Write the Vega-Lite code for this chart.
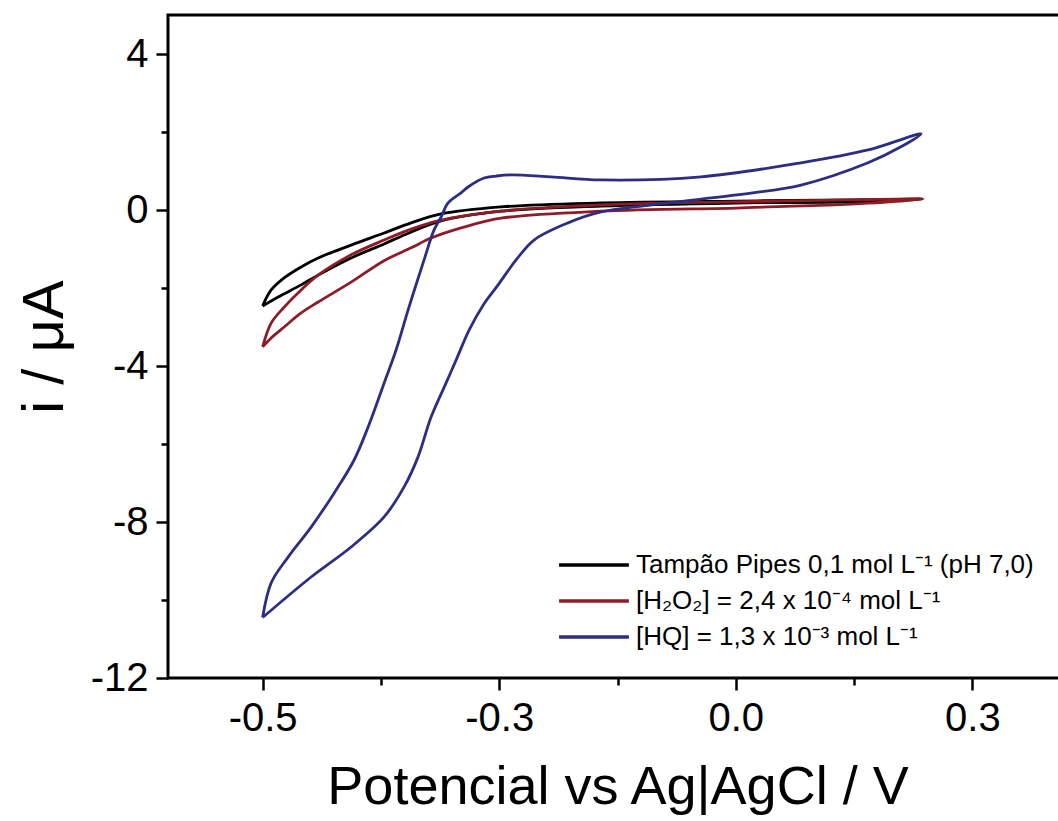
{
"$schema": "https://vega.github.io/schema/vega-lite/v6.json",
"width": 899, "height": 663,
"autosize": {"type": "none"},
"padding": {"left": 168, "top": 15, "right": 0, "bottom": 143},
"background": "white",
"config": {"font": "Liberation Sans", "view": {"stroke": "black", "strokeWidth": 3}},
"data": {"values": [
{"s":"t","k":0,"E":-0.600,"I":-2.46},
{"s":"t","k":1,"E":-0.5892,"I":-2.05},
{"s":"t","k":2,"E":-0.5727,"I":-1.74},
{"s":"t","k":3,"E":-0.5512,"I":-1.46},
{"s":"t","k":4,"E":-0.5296,"I":-1.23},
{"s":"t","k":5,"E":-0.4878,"I":-0.90},
{"s":"t","k":6,"E":-0.4460,"I":-0.59},
{"s":"t","k":7,"E":-0.4117,"I":-0.33},
{"s":"t","k":8,"E":-0.3737,"I":-0.10},
{"s":"t","k":9,"E":-0.2977,"I":0.08},
{"s":"t","k":10,"E":-0.1709,"I":0.18},
{"s":"t","k":11,"E":0.000,"I":0.23},
{"s":"t","k":12,"E":0.146,"I":0.26},
{"s":"t","k":13,"E":0.236,"I":0.28},
{"s":"t","k":14,"E":0.146,"I":0.21},
{"s":"t","k":15,"E":0.000,"I":0.18},
{"s":"t","k":16,"E":-0.1709,"I":0.10},
{"s":"t","k":17,"E":-0.2977,"I":-0.03},
{"s":"t","k":18,"E":-0.3737,"I":-0.28},
{"s":"t","k":19,"E":-0.4181,"I":-0.62},
{"s":"t","k":20,"E":-0.4460,"I":-0.87},
{"s":"t","k":21,"E":-0.4878,"I":-1.23},
{"s":"t","k":22,"E":-0.5296,"I":-1.67},
{"s":"t","k":23,"E":-0.5512,"I":-1.92},
{"s":"t","k":24,"E":-0.5803,"I":-2.23},
{"s":"t","k":25,"E":-0.600,"I":-2.46},
{"s":"h","k":0,"E":-0.600,"I":-3.51},
{"s":"h","k":1,"E":-0.5892,"I":-2.90},
{"s":"h","k":2,"E":-0.5727,"I":-2.49},
{"s":"h","k":3,"E":-0.5512,"I":-2.05},
{"s":"h","k":4,"E":-0.5296,"I":-1.67},
{"s":"h","k":5,"E":-0.4878,"I":-1.15},
{"s":"h","k":6,"E":-0.4460,"I":-0.77},
{"s":"h","k":7,"E":-0.4117,"I":-0.49},
{"s":"h","k":8,"E":-0.3737,"I":-0.26},
{"s":"h","k":9,"E":-0.2977,"I":-0.03},
{"s":"h","k":10,"E":-0.1709,"I":0.13},
{"s":"h","k":11,"E":0.000,"I":0.21},
{"s":"h","k":12,"E":0.146,"I":0.26},
{"s":"h","k":13,"E":0.2374,"I":0.28},
{"s":"h","k":14,"E":0.146,"I":0.15},
{"s":"h","k":15,"E":0.041,"I":0.08},
{"s":"h","k":16,"E":0.000,"I":0.05},
{"s":"h","k":17,"E":-0.1709,"I":-0.03},
{"s":"h","k":18,"E":-0.2977,"I":-0.21},
{"s":"h","k":19,"E":-0.3483,"I":-0.46},
{"s":"h","k":20,"E":-0.3864,"I":-0.72},
{"s":"h","k":21,"E":-0.4117,"I":-0.97},
{"s":"h","k":22,"E":-0.4460,"I":-1.30},
{"s":"h","k":23,"E":-0.4878,"I":-1.85},
{"s":"h","k":24,"E":-0.5296,"I":-2.36},
{"s":"h","k":25,"E":-0.5512,"I":-2.64},
{"s":"h","k":26,"E":-0.5727,"I":-3.00},
{"s":"h","k":27,"E":-0.5892,"I":-3.28},
{"s":"h","k":28,"E":-0.600,"I":-3.51},
{"s":"q","k":0,"E":-0.600,"I":-10.45},
{"s":"q","k":1,"E":-0.5892,"I":-9.56},
{"s":"q","k":2,"E":-0.5677,"I":-8.90},
{"s":"q","k":3,"E":-0.5385,"I":-8.13},
{"s":"q","k":4,"E":-0.5094,"I":-7.26},
{"s":"q","k":5,"E":-0.4840,"I":-6.41},
{"s":"q","k":6,"E":-0.4650,"I":-5.50},
{"s":"q","k":7,"E":-0.4460,"I":-4.44},
{"s":"q","k":8,"E":-0.4308,"I":-3.59},
{"s":"q","k":9,"E":-0.4155,"I":-2.56},
{"s":"q","k":10,"E":-0.3953,"I":-1.28},
{"s":"q","k":11,"E":-0.3826,"I":-0.51},
{"s":"q","k":12,"E":-0.3737,"I":-0.18},
{"s":"q","k":13,"E":-0.3648,"I":0.18},
{"s":"q","k":14,"E":-0.3484,"I":0.44},
{"s":"q","k":15,"E":-0.3395,"I":0.59},
{"s":"q","k":16,"E":-0.3192,"I":0.82},
{"s":"q","k":17,"E":-0.3040,"I":0.87},
{"s":"q","k":18,"E":-0.2850,"I":0.90},
{"s":"q","k":19,"E":-0.2343,"I":0.85},
{"s":"q","k":20,"E":-0.1709,"I":0.77},
{"s":"q","k":21,"E":-0.0441,"I":0.85},
{"s":"q","k":22,"E":0.0827,"I":1.21},
{"s":"q","k":23,"E":0.1677,"I":1.54},
{"s":"q","k":24,"E":0.2349,"I":1.95},
{"s":"q","k":25,"E":0.2094,"I":1.62},
{"s":"q","k":26,"E":0.1677,"I":1.21},
{"s":"q","k":27,"E":0.0827,"I":0.64},
{"s":"q","k":28,"E":-0.0023,"I":0.38},
{"s":"q","k":29,"E":-0.0860,"I":0.18},
{"s":"q","k":30,"E":-0.1709,"I":-0.05},
{"s":"q","k":31,"E":-0.2127,"I":-0.33},
{"s":"q","k":32,"E":-0.2558,"I":-0.77},
{"s":"q","k":33,"E":-0.2786,"I":-1.28},
{"s":"q","k":34,"E":-0.3014,"I":-1.92},
{"s":"q","k":35,"E":-0.3204,"I":-2.44},
{"s":"q","k":36,"E":-0.3382,"I":-3.08},
{"s":"q","k":37,"E":-0.3547,"I":-3.85},
{"s":"q","k":38,"E":-0.3686,"I":-4.49},
{"s":"q","k":39,"E":-0.3864,"I":-5.31},
{"s":"q","k":40,"E":-0.4029,"I":-6.33},
{"s":"q","k":41,"E":-0.4206,"I":-7.10},
{"s":"q","k":42,"E":-0.4460,"I":-7.87},
{"s":"q","k":43,"E":-0.4878,"I":-8.64},
{"s":"q","k":44,"E":-0.5385,"I":-9.41},
{"s":"q","k":45,"E":-0.600,"I":-10.45}
]},
"mark": {"type": "line", "strokeWidth": 2.8, "clip": true, "interpolate": "catmull-rom"},
"encoding": {
  "x": {"field": "E", "type": "quantitative",
    "scale": {"domain": [-0.72, 0.42], "nice": false, "zero": false},
    "axis": {"values": [-0.6, -0.45, -0.3, -0.15, 0, 0.15, 0.3],
      "labelExpr": "datum.value < -0.5 ? '-0.5' : datum.value < -0.4 ? '' : datum.value < -0.2 ? '-0.3' : datum.value < -0.1 ? '' : datum.value < 0.1 ? '0.0' : datum.value < 0.2 ? '' : '0.3'",
      "title": "Potencial vs Ag|AgCl / V", "grid": false, "domain": false,
      "tickColor": "black", "tickWidth": 2.5,
      "tickSize": {"condition": {"test": "abs(round(datum.value*20)) % 2 == 1", "value": 7}, "value": 12},
      "labelFontSize": 40, "labelColor": "black", "labelPadding": 8, "labelFlush": false, "labelOverlap": false,
      "titleFontSize": 54, "titleFontWeight": "normal", "titleColor": "black", "titlePadding": 22}},
  "y": {"field": "I", "type": "quantitative",
    "scale": {"domain": [-12, 5], "nice": false, "zero": false},
    "axis": {"values": [-12, -10, -8, -6, -4, -2, 0, 2, 4],
      "labelExpr": "abs(datum.value) % 4 == 0 ? (datum.value < 0 ? '-' + abs(datum.value) : '' + datum.value) : ''",
      "title": "i / μA", "grid": false, "domain": false,
      "tickColor": "black", "tickWidth": 2.5,
      "tickSize": {"condition": {"test": "abs(datum.value) % 4 == 2", "value": 7}, "value": 12},
      "labelFontSize": 40, "labelColor": "black", "labelPadding": 8, "labelFlush": false, "labelOverlap": false,
      "titleFontSize": 58, "titleFontWeight": "normal", "titleColor": "black", "titlePadding": 16}},
  "color": {"field": "s", "type": "nominal",
    "scale": {"domain": ["t", "h", "q"], "range": ["#000000", "#8E1B26", "#2C2E83"]},
    "legend": {"orient": "none", "legendX": 413, "legendY": 537, "title": null, "padding": 0,
      "symbolType": "M-5,0H5", "symbolSize": 195, "symbolStrokeWidth": 3.5,
      "labelFontSize": 26, "labelColor": "black", "labelOffset": 29, "rowPadding": 10,
      "labelLimit": 600,
      "labelExpr": "datum.label == 't' ? 'Tampão Pipes 0,1 mol L⁻¹ (pH 7,0)' : datum.label == 'h' ? '[H₂O₂] = 2,4 x 10⁻⁴ mol L⁻¹' : '[HQ] = 1,3 x 10⁻³ mol L⁻¹'"}},
  "order": {"field": "k", "type": "quantitative"}
}
}
